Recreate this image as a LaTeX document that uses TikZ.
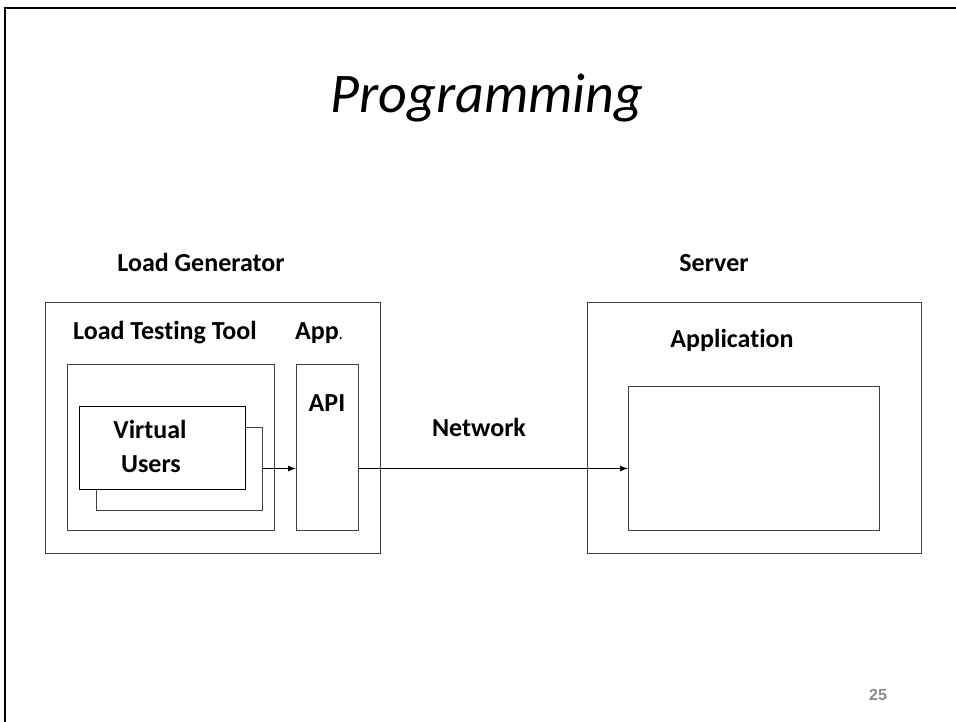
\documentclass[tikz,border=0pt]{standalone}
\usepackage{fontspec}
\setmainfont[Ligatures=NoCommon]{Carlito}
\newfontfamily\numfont{Liberation Sans}
\usetikzlibrary{arrows.meta,positioning}
\definecolor{boxgray}{HTML}{404040}
\definecolor{pagegray}{HTML}{8C8C8C}

\begin{document}
\begin{tikzpicture}[x=1pt,y=-1pt,>={Latex[length=8pt,width=6pt]},
    box/.style={draw=boxgray,line width=1pt,inner sep=0pt,outer sep=0pt,fill=white},
    lbl/.style={anchor=base,font=\fontsize{26}{30}\selectfont\bfseries,inner sep=0pt},
    conn/.style={->,line width=1pt}]
  \useasboundingbox (0,0) rectangle (956,722);
  % slide frame
  \draw[line width=2pt] (5,722) -- (5,8) -- (956,8);
  \node[anchor=base,inner sep=0pt,font=\fontsize{56}{64}\selectfont\itshape] (title) at (487,113) {Programming};

  \node[lbl] (lgtxt)  at (201,272) {Load Generator};
  \node[lbl] (srvtxt) at (714,272) {Server};

  % load generator side
  \node[box,minimum width=335pt,minimum height=251pt] (lg)  at (212.5,427.5) {};
  \node[box,minimum width=207pt,minimum height=166pt] (ltt) at (170.5,447) {};
  \node[box,minimum width=62pt, minimum height=166pt] (api) at (327,447) {};
  \node[box,minimum width=166pt,minimum height=83pt]  (vu2) at (179,468.5) {};
  \node[box,draw=black,minimum width=166pt,minimum height=83pt] (vu1) at (162,447.5) {};

  \node[lbl] (ltttxt) at (165,339) {Load Testing Tool};
  \node[lbl,anchor=base west] (apptxt) at (295,339) {App{\fontsize{14}{16}\selectfont.}};
  \node[lbl] (apitxt) at (327,411) {API};
  \node[lbl] (vutxt)  at (150,438) {Virtual};
  \node[lbl] (ustxt)  at (151,472) {Users};

  % server side
  \node[box,minimum width=334pt,minimum height=251pt] (srv) at (754,427.5) {};
  \node[box,minimum width=251pt,minimum height=144pt] (app) at (753.5,458) {};
  \node[lbl] (aptxt) at (732,347) {Application};

  \node[lbl] (nettxt) at (479,436) {Network};

  \draw[conn] (vu2.east) -- (vu2.east -| api.west);
  \draw[conn] (vu2.east -| api.east) -- (vu2.east -| app.west);

  \node[anchor=base,inner sep=0pt,font=\numfont\bfseries\fontsize{16}{18}\selectfont,text=pagegray] (pg) at (878,700) {25};
\end{tikzpicture}
\end{document}
